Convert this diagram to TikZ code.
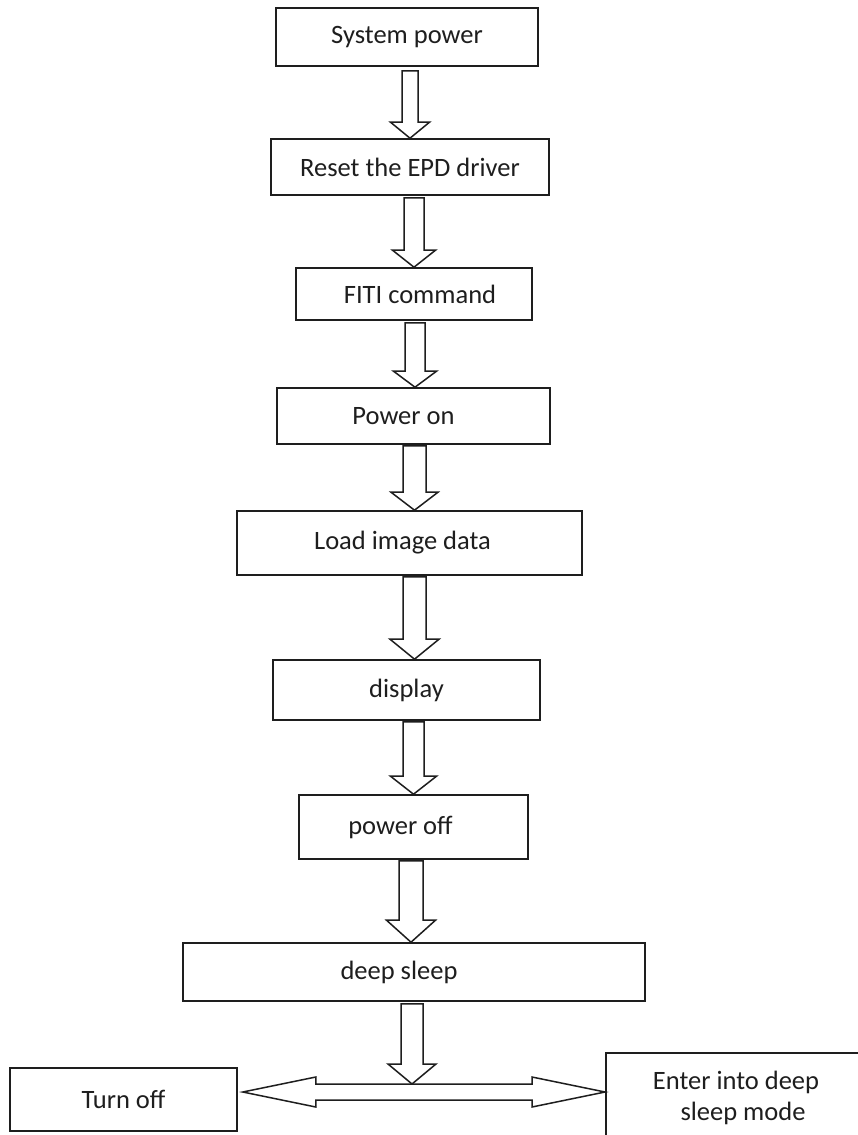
\documentclass[tikz,border=0pt]{standalone}
\usepackage{fontspec}
\setmainfont{Carlito}
\usetikzlibrary{calc}
\definecolor{ink}{HTML}{1E1E1E}
\newcommand\vblk[7]{%
\draw[blk] let \p1=(#1), \p2=(#2) in
 (#3pt-#4pt,\y1-#7pt) -- (#3pt-#4pt,\y2+#6pt) -- (#3pt-#5pt,\y2+#6pt) -- (#3pt,\y2)
 -- (#3pt+#5pt,\y2+#6pt) -- (#3pt+#4pt,\y2+#6pt) -- (#3pt+#4pt,\y1-#7pt) -- cycle;}
\begin{document}
\begin{tikzpicture}[x=1pt,y=-1pt,
  box/.style={draw=ink,line width=1.6pt,rectangle,inner sep=0pt,text=ink,
    font=\fontsize{26.5}{31}\selectfont},
  txt/.style={inner sep=0pt,text=ink,font=\fontsize{26.5}{31}\selectfont},
  blk/.style={draw=ink,line width=1.5pt,fill=white,line join=miter}]
\useasboundingbox[fill=white] (0,0) rectangle (858,1135);
\node[box,minimum width=262pt,minimum height=58pt] (n1) at (407,37) {System power};
\node[box,minimum width=278pt,minimum height=56pt] (n2) at (410,167) {Reset the EPD driver};
\node[box,minimum width=236pt,minimum height=52pt] (n3) at (414,294) {\hspace*{12pt}FITI command};
\node[box,minimum width=273pt,minimum height=56pt] (n4) at (413.5,416) {\hspace*{-20pt}Power on};
\node[box,minimum width=345pt,minimum height=64pt] (n5) at (409.5,543) {\hspace*{-14pt}Load image data};
\node[box,minimum width=267pt,minimum height=60pt] (n6) at (406.5,690) {display};
\node[box,minimum width=229pt,minimum height=64pt] (n7) at (413.5,827) {\hspace*{-26pt}power off};
\node[box,minimum width=462pt,minimum height=58pt] (n8) at (414,972) {\hspace*{-30pt}deep sleep};
\node[box,minimum width=227pt,minimum height=63pt] (n9) at (123.5,1099.5) {Turn off};
\node[box,minimum width=300pt,minimum height=110pt,anchor=north west] (n10) at (605,1052) {};
\node[txt,align=center] (n10t) at (739.5,1098) {\hspace*{-7pt}Enter into deep\\\hspace*{7pt}sleep mode};
\coordinate (split) at (412,1084);
\coordinate (ltip) at ($(n9.east |- split)+(5,8)$);
\coordinate (rtip) at (n10.west |- ltip);
\vblk{n1.south}{n2.north}{410}{8}{19.5}{16}{4}
\vblk{n2.south}{n3.north}{414}{10}{21.5}{17}{2}
\vblk{n3.south}{n4.north}{415}{10}{21.5}{16}{2}
\vblk{n4.south}{n5.north}{414.5}{11.5}{23.5}{18}{1}
\vblk{n5.south}{n6.north}{414.5}{11.5}{24.5}{20}{1}
\vblk{n6.south}{n7.north}{413.5}{10.5}{23}{18}{1}
\vblk{n7.south}{n8.north}{411}{12}{24.5}{22}{1}
\vblk{n8.south}{split}{412}{11}{24}{20}{2}
\draw[blk] let \p1=(ltip), \p2=(rtip) in
 (\x1,\y1) -- (\x1+73pt,\y1+15pt) -- (\x1+73pt,\y1+8pt) -- (\x2-73pt,\y1+8pt)
 -- (\x2-73pt,\y1+15pt) -- (\x2,\y1) -- (\x2-73pt,\y1-15pt) -- (\x2-73pt,\y1-8pt)
 -- (\x1+73pt,\y1-8pt) -- (\x1+73pt,\y1-15pt) -- cycle;
\end{tikzpicture}
\end{document}
